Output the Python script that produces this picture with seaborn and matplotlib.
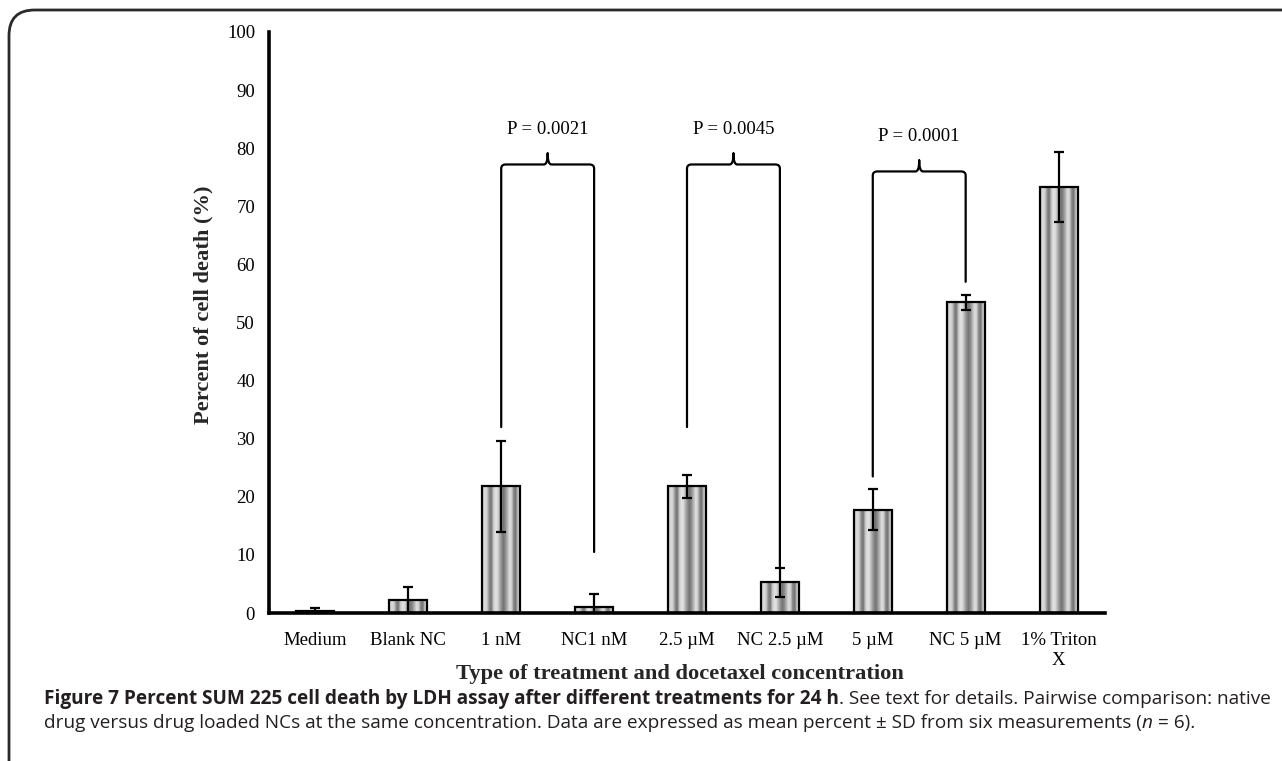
import numpy as np
import pandas as pd
import matplotlib
matplotlib.use("Agg")
import matplotlib.pyplot as plt
import seaborn as sns
from matplotlib.path import Path
from matplotlib.patches import PathPatch, FancyBboxPatch

# ---------------- data ----------------
categories = ["Medium", "Blank NC", "1 nM", "NC1 nM", "2.5 \u00b5M", "NC 2.5 \u00b5M",
              "5 \u00b5M", "NC 5 \u00b5M", "1% Triton\nX"]
means = [0.3, 2.2, 21.8, 1.1, 21.8, 5.3, 17.8, 53.5, 73.3]
sds = [0.5, 2.2, 7.8, 2.1, 2.0, 2.5, 3.5, 1.3, 6.0]
yticks = [0, 10, 20, 30, 40, 50, 60, 70, 80, 90, 100]

# comparison brackets
br_left = [2, 4, 6]
br_right = [3, 5, 7]
br_left_end = [32.0, 32.0, 23.5]
br_right_end = [10.5, 8.0, 57.0]
br_level = [77.2, 77.2, 76.0]
br_labels = ["P = 0.0021", "P = 0.0045", "P = 0.0001"]

xlabel = "Type of treatment and docetaxel concentration"
ylabel = "Percent of cell death (%)"
cap1_bold = "Figure 7 Percent SUM 225 cell death by LDH assay after different treatments for 24 h"
cap1_reg = ". See text for details. Pairwise comparison: native"
cap2_a = "drug versus drug loaded NCs at the same concentration. Data are expressed as mean percent \u00b1 SD from six measurements ("
cap2_b = "n"
cap2_c = " = 6)."

# ---------------- style ----------------
sns.set_style("white")
serif = ["Liberation Serif", "DejaVu Serif"]
plt.rcParams["font.family"] = serif

W, H = 1282, 761
fig = plt.figure(figsize=(W / 100, H / 100), dpi=100)
ax = fig.add_axes([269 / W, (H - 613) / H, (1105 - 269) / W, (613 - 32) / H])

df = pd.DataFrame({"cat": categories, "val": means})
sns.barplot(data=df, x="cat", y="val", ax=ax, width=0.41, color="white",
            edgecolor="black", linewidth=1.6, errorbar=None, zorder=3)

# cylinder-like striped fill
profile = np.array([0.80, 0.86, 0.80, 0.55, 0.45, 0.76, 0.88, 0.86, 0.70, 0.56,
                    0.46, 0.56, 0.72, 0.87, 0.80, 0.52, 0.46, 0.78, 0.86])
grad = np.tile(profile, (2, 1))
for p in ax.patches:
    p.set_facecolor("none")
    x0, w, h = p.get_x(), p.get_width(), p.get_height()
    im = ax.imshow(grad, cmap="gray", vmin=0, vmax=1, aspect="auto",
                   extent=[x0, x0 + w, 0, h], interpolation="bilinear", zorder=2)
    im.set_clip_path(p)

xs = np.arange(len(categories))
ax.errorbar(xs, means, yerr=sds, fmt="none", ecolor="black", elinewidth=1.6,
            capsize=3.5, capthick=1.6, zorder=4)

# brackets
for li, ri, le, re, lv, lab in zip(br_left, br_right, br_left_end, br_right_end, br_level, br_labels):
    rx, ry = 0.05, 0.7
    c = (li + ri) / 2
    verts = [(li, le), (li, lv - ry), (li, lv), (li + rx, lv),
             (c - 0.04, lv), (c, lv), (c, lv + 1.9),
             (c, lv + 1.9), (c, lv), (c + 0.04, lv),
             (ri - rx, lv), (ri, lv), (ri, lv - ry), (ri, re)]
    codes = [Path.MOVETO, Path.LINETO, Path.CURVE3, Path.CURVE3,
             Path.LINETO, Path.CURVE3, Path.CURVE3,
             Path.MOVETO, Path.CURVE3, Path.CURVE3,
             Path.LINETO, Path.CURVE3, Path.CURVE3, Path.LINETO]
    ax.add_patch(PathPatch(Path(verts, codes), fill=False, lw=1.6, color="black", zorder=5,
                           capstyle="round", joinstyle="round"))
    ax.text(c, lv + 6.0, lab, ha="center", va="center", fontsize=13.5, color="black")

ax.set_xlim(-0.5, len(categories) - 0.5)
ax.set_ylim(0, 100)
ax.set_yticks(yticks)
ax.set_yticklabels([str(t) for t in yticks])
sns.despine(ax=ax)
for s in ["left", "bottom"]:
    ax.spines[s].set_linewidth(2.6)
    ax.spines[s].set_color("black")
ax.tick_params(axis="y", direction="out", length=5, width=2.4, labelsize=13.5, pad=5, colors="black")
ax.tick_params(axis="x", length=0, labelsize=13.5, pad=14, colors="black")
ax.set_xlabel("")
ax.set_ylabel("")

fig.text(680 / W, (H - 679) / H, xlabel, ha="center", va="baseline", fontsize=16.2,
         fontweight="bold", family=serif)
fig.text(203 / W, (H - 305) / H, ylabel, ha="center", va="center", fontsize=16.2,
         fontweight="bold", family=serif, rotation=90)

# frame
frame = FancyBboxPatch((9 / W, -0.2), 1.2, (H - 10) / H + 0.2,
                       boxstyle="round,pad=0,rounding_size=0.02", transform=fig.transFigure,
                       fill=False, lw=2.0, ec="#2a2a2a", mutation_aspect=W / H)
fig.patches.append(frame)

# caption
cap_font = ["Open Sans", "DejaVu Sans"]
ccol = "#231f20"
fig.canvas.draw()
r = fig.canvas.get_renderer()
x0c = 44
probe1 = fig.text(0, 0, cap1_bold, fontsize=10, fontweight="bold", family=cap_font)
probe2 = fig.text(0, 0, cap1_reg, fontsize=10, family=cap_font)
wprobe = probe1.get_window_extent(r).width + probe2.get_window_extent(r).width
probe1.remove(); probe2.remove()
cs = 10 * (1271 - x0c) / wprobe

y1 = (H - 699) / H
t = fig.text(x0c / W, y1, cap1_bold, fontsize=cs, fontweight="bold", family=cap_font, color=ccol, va="center")
bb = t.get_window_extent(r)
fig.text(bb.x1 / W, y1, cap1_reg, fontsize=cs, family=cap_font, color=ccol, va="center")
y2 = (H - 723) / H
t = fig.text(x0c / W, y2, cap2_a, fontsize=cs, family=cap_font, color=ccol, va="center")
bb = t.get_window_extent(r)
t = fig.text(bb.x1 / W, y2, cap2_b, fontsize=cs, family=cap_font, style="italic", color=ccol, va="center")
bb = t.get_window_extent(r)
fig.text(bb.x1 / W, y2, cap2_c, fontsize=cs, family=cap_font, color=ccol, va="center")

fig.savefig("out.png", dpi=100)
